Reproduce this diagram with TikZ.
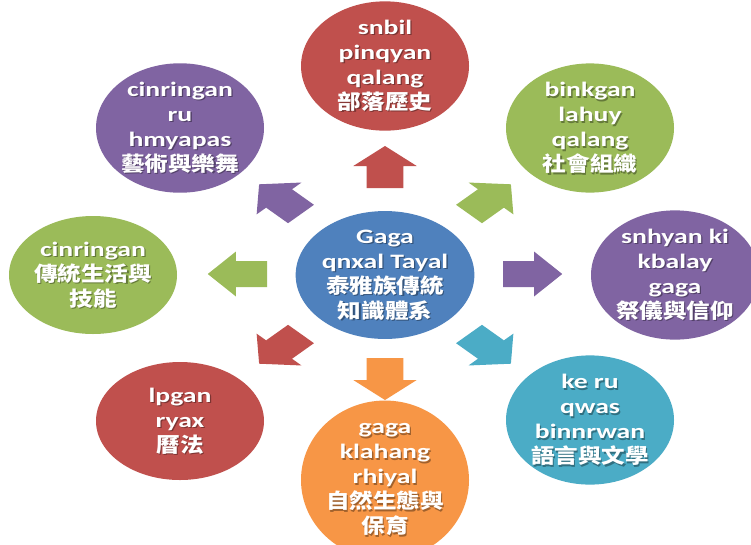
\documentclass[tikz,border=0pt]{standalone}
\usepackage{fontspec}
\usetikzlibrary{shapes.geometric}
\newfontfamily\lat[FakeStretch=1.35]{Carlito}
\newfontfamily\cjk[FakeStretch=1.15]{Noto Sans CJK TC}
\newcommand\zh[1]{{\cjk\bfseries #1}}
\definecolor{ored}{HTML}{C0504D}
\definecolor{opurple}{HTML}{8064A2}
\definecolor{ogreen}{HTML}{9BBB59}
\definecolor{oblue}{HTML}{4F81BD}
\definecolor{oteal}{HTML}{4BACC6}
\definecolor{oorange}{HTML}{F79646}
\tikzset{
  bubble/.style={ellipse, minimum width=168pt, minimum height=118pt, inner sep=0pt,
    align=center, text=white, font=\lat\bfseries\fontsize{20.5}{25}\selectfont},
  arrdir/.style={x={({1.41*cos(#1)*1pt},{sin(#1)*1pt})}, y={({-1.41*sin(#1)*1pt},{cos(#1)*1pt})}},
}
% #1 name, #2 x, #3 y, #4 colour, #5 extra options, #6 text
\newcommand\bubblenode[6]{%
  \node[bubble, fill=#4, text opacity=0, #5] (#1) at (#2,#3) {#6};
  \node[bubble, text=black, text opacity=0.35, #5] at ([shift={(1.3pt,-1.3pt)}]#1.center) {#6};
  \node[bubble, #5] at (#1.center) {#6};}
\newcommand\blockarrow[4]{%
  \begin{scope}[shift={(#1pt,-#2pt)}, arrdir=#3]
    \fill[#4] (0,-13) -- (22,-13) -- (22,-22.5) -- (42,0) -- (22,22.5) -- (22,13) -- (0,13) -- cycle;
  \end{scope}}
\begin{document}
\begin{tikzpicture}[x=1pt,y=-1pt]
\useasboundingbox (0,0) rectangle (751,544);
\fill[white] (0,0) rectangle (751,544);
\clip (0,0) rectangle (751,544);
\bubblenode{hist}{385}{66}{ored}{}{snbil\\pinqyan\\qalang\\\zh{部落歷史}}
\bubblenode{art}{180}{128}{opurple}{}{cinringan\\ru\\hmyapas\\\zh{藝術與樂舞}}
\bubblenode{soc}{590}{128}{ogreen}{}{binkgan\\lahuy\\qalang\\\zh{社會組織}}
\bubblenode{life}{93}{275}{ogreen}{}{cinringan\\\zh{傳統生活與}\\\zh{技能}}
\bubblenode{core}{385}{275}{oblue}{minimum width=172pt, minimum height=124pt}{Gaga\\qnxal Tayal\\\zh{泰雅族傳統}\\\zh{知識體系}}
\bubblenode{rit}{675}{275}{opurple}{}{snhyan ki\\kbalay\\gaga\\\zh{祭儀與信仰}}
\bubblenode{cal}{180}{421}{ored}{}{lpgan\\ryax\\\zh{曆法}}
\bubblenode{lang}{590}{420}{oteal}{}{ke ru\\qwas\\binnrwan\\\zh{語言與文學}}
\bubblenode{eco}{385}{480}{oorange}{}{gaga\\klahang\\rhiyal\\\zh{自然生態與}\\\zh{保育}}
\blockarrow{385}{188}{90}{ored}
\blockarrow{469}{214}{45}{ogreen}
\blockarrow{503}{274}{0}{opurple}
\blockarrow{469}{334}{-45}{oteal}
\blockarrow{385}{358}{-90}{oorange}
\blockarrow{301}{334}{-135}{ored}
\blockarrow{267}{274}{180}{ogreen}
\blockarrow{301}{214}{135}{opurple}
\end{tikzpicture}
\end{document}
